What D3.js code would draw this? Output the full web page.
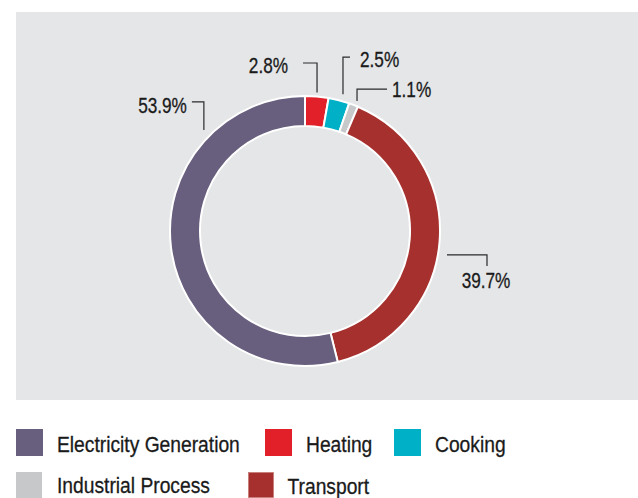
<!DOCTYPE html>
<html>
<head>
<meta charset="utf-8">
<script src="https://cdn.jsdelivr.net/npm/d3@7"></script>
<style>
  body { margin: 0; background: #fff; }
  svg text { font-family: "Liberation Sans", Arial, sans-serif; fill: #1a1a1a; stroke: #1a1a1a; stroke-width: 0.3; }
</style>
</head>
<body>
<svg id="chart" width="638" height="498"></svg>
<script>
// data, in ring order starting at 12 o'clock, clockwise
var categories = ["Heating", "Cooking", "Industrial Process", "Transport", "Electricity Generation"];
var shares = [2.8, 2.5, 1.1, 39.7, 53.9];
var valueLabels = ["2.8%", "2.5%", "1.1%", "39.7%", "53.9%"];

// legend order
var legendOrder = ["Electricity Generation", "Heating", "Cooking", "Industrial Process", "Transport"];

var colours = d3.scaleOrdinal()
  .domain(categories)
  .range(["#e1202a", "#00b0c7", "#c7c8ca", "#a5302d", "#685e7e"]);

var svg = d3.select("#chart");
var W = 638, H = 498;

// grey panel
svg.append("rect")
  .attr("x", 16).attr("y", 12)
  .attr("width", W - 16).attr("height", 388)
  .attr("fill", "#e5e6e8");

var cx = 305, cy = 231, rOuter = 135, rInner = 105;

var pie = d3.pie().sort(null).value(function(d){ return d; });
var arcs = pie(shares);

var arc = d3.arc().innerRadius(rInner).outerRadius(rOuter);

var g = svg.append("g").attr("transform", "translate(" + cx + "," + cy + ")");

g.selectAll("path.slice")
  .data(arcs)
  .enter().append("path")
  .attr("class", "slice")
  .attr("d", arc)
  .attr("fill", function(d, i){ return colours(categories[i]); })
  .attr("stroke", "#fff")
  .attr("stroke-width", 2);

// condensed look: regular sans squeezed sideways
function narrowText(sel, x, y, size, sx, anchor, str){
  sel.append("text")
    .attr("transform", "translate(" + x + "," + y + ") scale(" + sx + ",1)")
    .attr("text-anchor", anchor)
    .attr("font-size", size)
    .text(str);
}

// leader lines: anchor on the ring (fraction of a turn, radius), then two legs
var leaders = [
  { turn: 0.0138, r: 139, legs: [["v", -29.5], ["h", -14]], text: [-15, 10, "end"] },
  { turn: 0.0431, r: 142, legs: [["v", -37], ["h", 7]],     text: [10, 10, "start"] },
  { turn: 0.0606, r: 140, legs: [["v", -12], ["h", 30]],    text: [5, 8, "start"] },
  { turn: 0.2766, r: 144, legs: [["h", 40], ["v", 11]],     text: [-1, 22, "middle"] },
  { turn: 0.875,  r: 143, legs: [["v", -28], ["h", -12]],   text: [-5, 11, "end"] }
];

var angleScale = d3.scaleLinear().domain([0, 1]).range([0, 2 * Math.PI]);

leaders.forEach(function(L, i){
  var a = angleScale(L.turn);
  var x = L.r * Math.sin(a), y = -L.r * Math.cos(a);
  var pts = [[x, y]];
  L.legs.forEach(function(leg){
    if (leg[0] === "v") y += leg[1]; else x += leg[1];
    pts.push([x, y]);
  });
  g.append("path")
    .attr("d", d3.line()(pts))
    .attr("fill", "none")
    .attr("stroke", "#2a2a2a")
    .attr("stroke-width", 1.2);
  narrowText(g, x + L.text[0], y + L.text[1], 21.5, 0.8, L.text[2], valueLabels[i]);
});

// legend
var legendPos = [[16, 429, 27], [265, 429, 27], [394, 429, 27], [16, 472, 26], [248.5, 472.5, 25]];
var legend = svg.selectAll("g.legend")
  .data(legendOrder)
  .enter().append("g")
  .attr("class", "legend")
  .attr("transform", function(d, i){ return "translate(" + legendPos[i][0] + "," + legendPos[i][1] + ")"; });

legend.append("rect")
  .attr("width", function(d, i){ return legendPos[i][2]; })
  .attr("height", function(d, i){ return legendPos[i][2]; })
  .attr("fill", function(d){ return colours(d); })
  .attr("stroke", function(d){ return d === "Transport" ? "#c57a76" : "none"; })
  .attr("stroke-width", 0.8);

legend.each(function(d, i){
  var xo = d === "Transport" ? 39 : 41;
  var yo = i < 3 ? 22.7 : 21;
  narrowText(d3.select(this), xo, yo, 22, 0.875, "start", d);
});
</script>
</body>
</html>
